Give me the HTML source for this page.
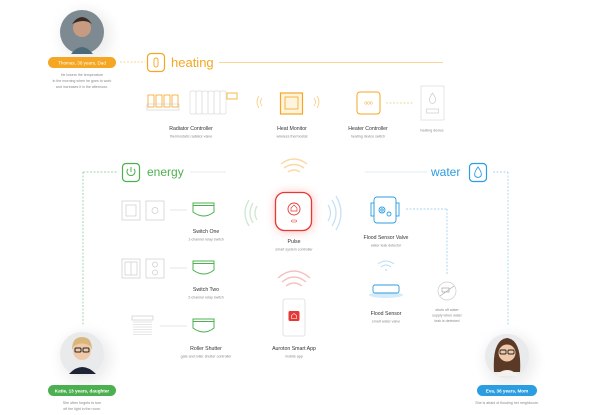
<!DOCTYPE html>
<html><head><meta charset="utf-8"><style>
html,body{margin:0;padding:0;background:#fff;}
svg{display:block;font-family:"Liberation Sans",sans-serif;}
.t{font-size:5.2px;fill:#333;text-anchor:middle;}
.s{font-size:3.6px;fill:#888;text-anchor:middle;}
</style></head><body>
<svg width="600" height="415" viewBox="0 0 600 415" xmlns="http://www.w3.org/2000/svg">
<defs>
<filter id="glow" x="-80%" y="-80%" width="260%" height="260%"><feGaussianBlur stdDeviation="5"/></filter>
<filter id="sh" x="-80%" y="-80%" width="260%" height="260%"><feGaussianBlur stdDeviation="6"/></filter>
</defs>

<!-- Thomas -->
<circle cx="86" cy="36" r="26" fill="#eee" filter="url(#sh)"/>
<circle cx="82" cy="32" r="22" fill="#7d8a92"/>
<circle cx="82" cy="28" r="9" fill="#c79b82"/>
<path d="M71 54 Q82 40 93 54 Z" fill="#4b6a78"/>
<path d="M72 24 Q82 10 92 24 Q84 18 72 24" fill="#3a2a22"/>
<rect x="48" y="57" width="68" height="11" rx="5.5" fill="#f5a623"/>
<text x="82" y="64.5" font-size="4.6" fill="#fff" text-anchor="middle">Thomas, 38 years, Dad</text>
<text x="82" y="76" class="s">He lowers the temperature</text>
<text x="82" y="82" class="s">in the morning when he goes to work</text>
<text x="82" y="88" class="s">and increases it in the afternoon.</text>

<!-- heating -->
<line x1="120" y1="62" x2="145" y2="62" stroke="#f7c77a" stroke-width="0.7" stroke-dasharray="2,1.5"/>
<rect x="147.5" y="53.5" width="17" height="18" rx="3.5" fill="none" stroke="#f5a623" stroke-width="1.2"/>
<rect x="154" y="58" width="4" height="9" rx="2" fill="none" stroke="#f5a623" stroke-width="0.9"/>
<text x="171" y="67" font-size="13" fill="#f5a623">heating</text>
<line x1="219" y1="62.5" x2="443" y2="62.5" stroke="#f7c77a" stroke-width="0.8"/>

<!-- radiator controller -->
<g fill="none" stroke="#f5a623" stroke-width="0.8">
<rect x="148" y="95" width="6" height="12"/><rect x="156" y="95" width="6" height="12"/><rect x="164" y="95" width="6" height="12"/><rect x="172" y="95" width="6" height="12"/>
</g>
<rect x="147" y="104" width="32" height="6" fill="none" stroke="#ccc" stroke-width="0.6"/>
<g fill="none" stroke="#ddd" stroke-width="0.7">
<rect x="190" y="91" width="6" height="23" rx="1.5"/><rect x="196" y="91" width="6" height="23" rx="1.5"/><rect x="202" y="91" width="6" height="23" rx="1.5"/><rect x="208" y="91" width="6" height="23" rx="1.5"/><rect x="214" y="91" width="6" height="23" rx="1.5"/><rect x="220" y="91" width="6" height="23" rx="1.5"/>
</g>
<rect x="227" y="93" width="10" height="6" fill="none" stroke="#f5a623" stroke-width="0.8"/>
<text x="191" y="130" class="t">Radiator Controller</text>
<text x="191" y="137.5" class="s">thermostatic radiator valve</text>

<!-- heat monitor -->
<g transform="translate(-5,0)">
<path d="M264 96 Q260 102 264 108 M267 98 Q264 102 267 106" fill="none" stroke="#f9d18e" stroke-width="0.9"/>
<path d="M322 96 Q326 102 322 108 M319 98 Q322 102 319 106" fill="none" stroke="#f9d18e" stroke-width="0.9"/>
<rect x="285.5" y="93" width="22" height="21" fill="#fff4dd" stroke="#f5a623" stroke-width="1.2"/>
<rect x="290" y="97" width="13" height="12" fill="none" stroke="#f5a623" stroke-width="0.8"/>
<text x="297" y="130" class="t">Heat Monitor</text>
<text x="297" y="137.5" class="s">wireless thermostat</text>
</g>

<!-- heater controller -->
<g transform="translate(-6,0)">
<rect x="363" y="92" width="23" height="22" rx="3" fill="none" stroke="#f5a623" stroke-width="1"/>
<text x="374.5" y="104.5" font-size="5" fill="#f5a623" text-anchor="middle">ooo</text>
<line x1="392" y1="103" x2="419" y2="103" stroke="#f7c77a" stroke-width="0.7" stroke-dasharray="2,1.5"/>
<rect x="427" y="86" width="23" height="34" fill="none" stroke="#e0e0e0" stroke-width="0.8"/>
<path d="M438.5 93 Q434 99 436 102 Q438.5 105 441 102 Q443 99 438.5 93Z" fill="none" stroke="#ccc" stroke-width="0.7"/>
<rect x="432.5" y="109" width="12" height="4" fill="none" stroke="#ccc" stroke-width="0.7"/>
<text x="374" y="130" class="t">Heater Controller</text>
<text x="374" y="137.5" class="s">heating device switch</text>
<text x="438" y="131.5" class="s">heating device</text>
</g>

<!-- energy -->
<line x1="83" y1="172" x2="118" y2="172" stroke="#7cc685" stroke-width="0.7" stroke-dasharray="2,1.5"/>
<line x1="83" y1="172" x2="83" y2="326" stroke="#7cc685" stroke-width="0.7" stroke-dasharray="2,1.5"/>
<rect x="122.5" y="163.5" width="17" height="18" rx="3.5" fill="none" stroke="#4cb050" stroke-width="1.2"/>
<path d="M128 169 A4 4 0 1 0 134 169" fill="none" stroke="#4cb050" stroke-width="1"/>
<line x1="131" y1="167" x2="131" y2="172" stroke="#4cb050" stroke-width="1"/>
<text x="147" y="176" font-size="12" fill="#4cb050">energy</text>
<line x1="190" y1="172" x2="226" y2="172" stroke="#e3e3e3" stroke-width="0.7"/>

<!-- switch rows -->
<g fill="none" stroke="#ccc" stroke-width="0.7">
<rect x="122" y="201" width="18" height="19"/><rect x="126" y="205" width="10" height="11"/>
<rect x="146" y="201" width="18" height="19"/><circle cx="155" cy="210.5" r="3"/>
<rect x="122" y="259" width="18" height="19"/><rect x="125" y="262" width="12" height="13"/><line x1="131" y1="262" x2="131" y2="275"/>
<rect x="146" y="259" width="18" height="19"/><circle cx="155" cy="264.5" r="2.5"/><circle cx="155" cy="272.5" r="2.5"/>
<rect x="132" y="316" width="21" height="4"/>
</g>
<g stroke="#ccc" stroke-width="0.5">
<line x1="133" y1="322" x2="152" y2="322"/><line x1="133" y1="324.5" x2="152" y2="324.5"/><line x1="133" y1="327" x2="152" y2="327"/><line x1="133" y1="329.5" x2="152" y2="329.5"/><line x1="133" y1="332" x2="152" y2="332"/><line x1="133" y1="334.5" x2="152" y2="334.5"/>
</g>
<g stroke="#ddd" stroke-width="0.7"><line x1="170" y1="210" x2="187" y2="210"/><line x1="170" y1="268" x2="187" y2="268"/><line x1="160" y1="326" x2="187" y2="326"/></g>
<g fill="none" stroke="#4cb050" stroke-width="1">
<path d="M193 203 h21 v9 q-10 8 -21 0z"/><line x1="193" y1="205.5" x2="214" y2="205.5"/>
<path d="M193 261 h21 v9 q-10 8 -21 0z"/><line x1="193" y1="263.5" x2="214" y2="263.5"/>
<path d="M193 319 h21 v9 q-10 8 -21 0z"/><line x1="193" y1="321.5" x2="214" y2="321.5"/>
</g>
<text x="206" y="233" class="t">Switch One</text>
<text x="206" y="240.5" class="s">1-channel relay switch</text>
<text x="206" y="291" class="t">Switch Two</text>
<text x="206" y="298.5" class="s">2-channel relay switch</text>
<text x="206" y="350" class="t">Roller Shutter</text>
<text x="206" y="357.5" class="s">gate and roller shutter controller</text>

<!-- Pulse -->
<g transform="translate(-3,0)">
<path d="M284 164 Q297 154 310 164 M287 168 Q297 161 307 168 M291 172 Q297 168 303 172" fill="none" stroke="#fbd9a4" stroke-width="1.4"/>
<path d="M252 200 Q244 213 252 226 M256 203 Q250 213 256 223 M260 206 Q256 213 260 220" fill="none" stroke="#cde8d0" stroke-width="1.3"/>
<path d="M335 200 Q343 213 335 226 M339 196 Q349 213 339 230 M331 205 Q336 213 331 221" fill="none" stroke="#c6e2f4" stroke-width="1.3"/>
<rect x="279" y="193" width="36" height="38" rx="9" fill="#ff6b6b" opacity="0.5" filter="url(#glow)"/>
<rect x="278.5" y="192.5" width="36" height="38" rx="9" fill="#fff" stroke="#e53935" stroke-width="1.3"/>
<circle cx="297" cy="209" r="6" fill="none" stroke="#e53935" stroke-width="0.9"/>
<path d="M294 211 v-3 l3 -3 l3 3 v3z" fill="none" stroke="#e53935" stroke-width="0.7"/>
<rect x="294.5" y="220" width="5" height="2" rx="1" fill="none" stroke="#e53935" stroke-width="0.6"/>
<text x="297" y="243" class="t">Pulse</text>
<text x="297" y="250.5" class="s">smart system controller</text>

<path d="M281 278 Q297 264 313 278 M285 282 Q297 272 309 282 M289 286 Q297 280 305 286" fill="none" stroke="#f6c0c0" stroke-width="1.4"/>
<rect x="286" y="299" width="22" height="37" rx="2" fill="none" stroke="#ddd" stroke-width="0.8"/>
<rect x="291.5" y="311" width="11" height="10" rx="1.5" fill="#e53935"/>
<path d="M294.5 318.5 v-3 l2.5 -2 l2.5 2 v3z" fill="none" stroke="#fff" stroke-width="0.6"/>
<text x="297" y="350" class="t">Auroton Smart App</text>
<text x="297" y="357.5" class="s">mobile app</text>
</g>

<!-- water -->
<line x1="365" y1="172" x2="427" y2="172" stroke="#cfe6f5" stroke-width="0.7"/>
<g transform="translate(-7,0)">
<text x="438" y="176" font-size="12" fill="#2b9de0">water</text>
<rect x="476.5" y="163.5" width="17" height="18" rx="3.5" fill="none" stroke="#2b9de0" stroke-width="1.2"/>
<path d="M485 167 Q480.5 173 482 176 Q485 179 488 176 Q489.5 173 485 167Z" fill="none" stroke="#2b9de0" stroke-width="0.9"/>
<line x1="500" y1="172" x2="515" y2="172" stroke="#8cc8ee" stroke-width="0.7" stroke-dasharray="2,1.5"/>
<line x1="515" y1="172" x2="515" y2="326" stroke="#8cc8ee" stroke-width="0.7" stroke-dasharray="2,1.5"/>
</g>

<!-- flood -->
<g transform="translate(-5,0)">
<g fill="none" stroke="#2b9de0" stroke-width="0.9">
<rect x="379" y="197" width="22" height="26" rx="3"/>
<rect x="376" y="203" width="3" height="13"/><rect x="401" y="203" width="3" height="13"/>
<circle cx="387" cy="210" r="3"/><circle cx="387" cy="210" r="1.2"/><circle cx="394" cy="214" r="2"/>
</g>
<line x1="411" y1="209" x2="452" y2="209" stroke="#8cc8ee" stroke-width="0.7" stroke-dasharray="2,1.5"/>
<line x1="452" y1="209" x2="452" y2="275" stroke="#8cc8ee" stroke-width="0.7" stroke-dasharray="2,1.5"/>
<text x="391" y="239" class="t">Flood Sensor Valve</text>
<text x="391" y="246.5" class="s">water leak detector</text>
<path d="M383 264 Q391 258 399 264 M386 267 Q391 263 396 267" fill="none" stroke="#b8dcf4" stroke-width="1"/>
<circle cx="391" cy="270" r="0.9" fill="#b8dcf4"/>
<ellipse cx="391" cy="295" rx="17" ry="3" fill="#d6ebf9"/>
<rect x="378" y="285" width="26" height="8" rx="2" fill="#fff" stroke="#2b9de0" stroke-width="0.9"/>
<text x="391" y="315" class="t">Flood Sensor</text>
<text x="391" y="322.5" class="s">smart water valve</text>
<circle cx="452" cy="291" r="9" fill="#fff" stroke="#ccc" stroke-width="0.7"/>
<path d="M447 288 h7 v4 h-7z M445 296 l14 -10" fill="none" stroke="#aaa" stroke-width="0.7"/>
<text x="452" y="311" class="s">shuts off water</text>
<text x="452" y="316.5" class="s">supply when water</text>
<text x="452" y="322" class="s">leak is detected</text>
</g>

<!-- Katie -->
<circle cx="86" cy="358" r="26" fill="#eee" filter="url(#sh)"/>
<circle cx="82" cy="354" r="22" fill="#e9eaec"/>
<circle cx="82" cy="351" r="9" fill="#f0c9aa"/>
<path d="M72 350 Q72 337 82 337 Q92 337 92 350 L90 346 Q82 341 74 346Z" fill="#d9b77a"/>
<rect x="75" y="348" width="6" height="4" rx="1" fill="none" stroke="#222" stroke-width="1"/><rect x="83" y="348" width="6" height="4" rx="1" fill="none" stroke="#222" stroke-width="1"/>
<path d="M69 374 Q82 360 96 374 Z" fill="#1e2433"/>
<rect x="48" y="385" width="68" height="11" rx="5.5" fill="#4cb050"/>
<text x="82" y="392.5" font-size="4.6" fill="#fff" text-anchor="middle" font-weight="bold">Katie, 13 years, daughter</text>
<text x="82" y="404" class="s">She often forgets to turn</text>
<text x="82" y="410" class="s">off the light in the room.</text>

<!-- Eva -->
<g transform="translate(-8,0)">
<circle cx="518" cy="360" r="26" fill="#eee" filter="url(#sh)"/>
<circle cx="515" cy="356" r="22" fill="#e9eaec"/>
<path d="M502 372 Q500 340 515 338 Q530 340 528 372Z" fill="#5a3a26"/>
<circle cx="515" cy="353" r="8.5" fill="#f0c9aa"/>
<rect x="508" y="350" width="6" height="4" rx="1" fill="none" stroke="#222" stroke-width="0.9"/><rect x="516" y="350" width="6" height="4" rx="1" fill="none" stroke="#222" stroke-width="0.9"/>
<path d="M503 376 Q515 364 527 376 Z" fill="#f4f0ec"/>
<rect x="485" y="385" width="60" height="11" rx="5.5" fill="#2b9de0"/>
<text x="515" y="392.5" font-size="4.6" fill="#fff" text-anchor="middle" font-weight="bold">Eva, 36 years, Mom</text>
<text x="515" y="404" class="s">She is afraid of flooding her neighbours.</text>
</g>
</svg>
</body></html>
